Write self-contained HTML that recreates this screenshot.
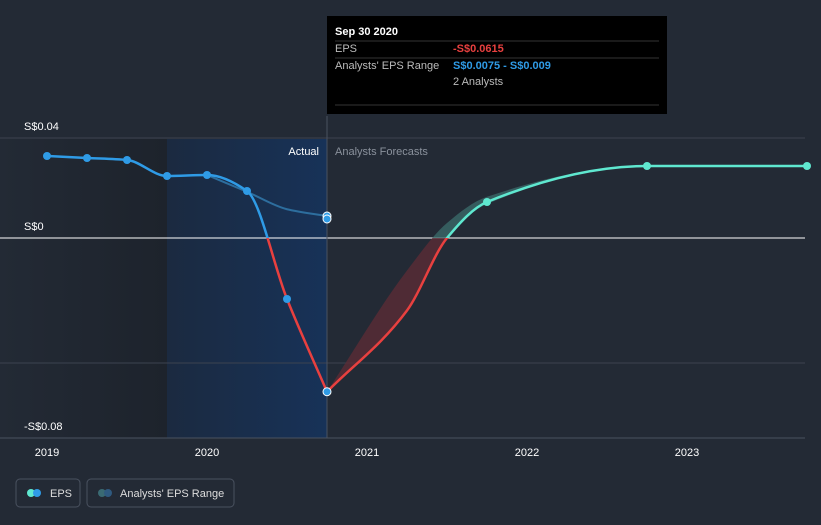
<!DOCTYPE html>
<html><head><meta charset="utf-8"><style>
body{margin:0;background:#232a35;font-family:"Liberation Sans",sans-serif;}
svg text{font-family:"Liberation Sans",sans-serif;}
</style></head><body>
<svg width="821" height="520" xmlns="http://www.w3.org/2000/svg">
<defs>
<linearGradient id="pastG" x1="0" x2="1" y1="0" y2="0"><stop offset="0" stop-color="#232a35"/><stop offset="1" stop-color="#1d232c"/></linearGradient>
<linearGradient id="actG" x1="0" x2="1" y1="0" y2="0"><stop offset="0" stop-color="#1b2a40"/><stop offset="1" stop-color="#173258"/></linearGradient>
</defs>
<rect x="0" y="0" width="821" height="520" fill="#232a35"/>
<rect x="0" y="139" width="167" height="299" fill="url(#pastG)"/>
<rect x="167" y="139" width="160" height="299" fill="url(#actG)"/>
<g id="grid"></g>
<line x1="327" y1="116" x2="327" y2="438" stroke="#4a5260" stroke-width="1"/>
<text x="319" y="155" fill="#ffffff" font-size="11" text-anchor="end">Actual</text>
<text x="335" y="155" fill="#8a919c" font-size="11">Analysts Forecasts</text>
<g id="marks"></g>
<g>
<rect x="327" y="16" width="340" height="98" fill="#000000"/>
<text x="335" y="35" fill="#fff" font-size="11" font-weight="bold">Sep 30 2020</text>
<line x1="335" y1="41" x2="659" y2="41" stroke="#333"/>
<text x="335" y="52" fill="#bbb" font-size="11">EPS</text>
<text x="453" y="52" fill="#e8403f" font-size="11" font-weight="bold">-S$0.0615</text>
<line x1="335" y1="58" x2="659" y2="58" stroke="#333"/>
<text x="335" y="69" fill="#bbb" font-size="11">Analysts' EPS Range</text>
<text x="453" y="69" fill="#2f9be6" font-size="11" font-weight="bold">S$0.0075 - S$0.009</text>
<text x="453" y="85" fill="#bbb" font-size="11">2 Analysts</text>
<line x1="335" y1="105" x2="659" y2="105" stroke="#333"/>
</g>
<g>
<rect x="16" y="479" width="64" height="28" rx="4" fill="none" stroke="#4a5260"/>
<circle cx="31" cy="493" r="4" fill="#5fe8d0"/><circle cx="37" cy="493" r="4" fill="#2f9be6"/>
<text x="50" y="497" fill="#ddd" font-size="11">EPS</text>
<rect x="87" y="479" width="147" height="28" rx="4" fill="none" stroke="#4a5260"/>
<circle cx="102" cy="493" r="4" fill="#3a6a73"/><circle cx="108" cy="493" r="4" fill="#2f5a80"/>
<text x="120" y="497" fill="#ddd" font-size="11">Analysts' EPS Range</text>
</g>
</svg>
<script>
const yTickVals=[0.04,0,-0.08];
const yTickLabels=["S$0.04","S$0","-S$0.08"];
const xTickVals=[2019,2020,2021,2022,2023];
const actualX=[2019,2019.25,2019.5,2019.75,2020,2020.25,2020.5,2020.75];
const actualY=[0.0328,0.032,0.0312,0.0248,0.0252,0.0188,-0.0244,-0.0615];
const pastEstX=[2020,2020.25,2020.5,2020.75];
const pastEstY=[0.0252,0.0185,0.0115,0.0088];
const fcX=[2020.75,2021.25,2021.5,2021.75,2022.75,2023.75];
const fcY=[-0.0615,-0.029,0,0.0144,0.0288,0.0288];
const fcLow=[-0.0615,-0.029,0,0.0136,0.0288,0.0288];
const fcHigh=[-0.0615,-0.013,0.006,0.0165,0.0288,0.0288];
const ns="http://www.w3.org/2000/svg";
const X=v=>47+(v-2019)*160;
const Y=v=>238-v*2500;
function el(t,a,p){const e=document.createElementNS(ns,t);for(const k in a)e.setAttribute(k,a[k]);p.appendChild(e);return e;}
const g=document.getElementById('grid'),m=document.getElementById('marks');
yTickVals.forEach((v,i)=>{
 const l=el('line',{x1:0,x2:805,y1:Y(v),y2:Y(v),stroke:v===0?'#ffffff':'#3c4350','stroke-width':1},g);
 
 
 const t=el('text',{x:24,y:Y(v)-8,fill:'#ffffff','font-size':11},g);t.textContent=yTickLabels[i];
 
 
});
const gl=el('line',{x1:0,x2:805,y1:Y(-0.05),y2:Y(-0.05),stroke:'#3c4350'},g);


const ax=el('line',{x1:0,x2:805,y1:438,y2:438,stroke:'#4a5260'},g);


xTickVals.forEach(v=>{
 const t=el('text',{x:X(v),y:456,fill:'#ffffff','font-size':11,'text-anchor':'middle'},g);t.textContent=v;
 
 
});
function mono(xs,ys){
 const px=xs.map(X),py=ys.map(Y),n=px.length;
 const dx=[],s=[];for(let i=0;i<n-1;i++){dx.push(px[i+1]-px[i]);s.push((py[i+1]-py[i])/dx[i]);}
 const t=[s[0]];for(let i=1;i<n-1;i++){t.push(s[i-1]*s[i]<=0?0:3*(dx[i-1]+dx[i])/((2*dx[i]+dx[i-1])/s[i-1]+(dx[i]+2*dx[i-1])/s[i]));}
 t.push(s[n-2]);
 let d='M'+px[0]+','+py[0];
 for(let i=0;i<n-1;i++){const h=dx[i]/3;d+=' C'+(px[i]+h)+','+(py[i]+t[i]*h)+' '+(px[i+1]-h)+','+(py[i+1]-t[i+1]*h)+' '+px[i+1]+','+py[i+1];}
 return d;
}
function monoRev(xs,ys){return mono(xs.slice().reverse(),ys.slice().reverse());}
const clip1=el('clipPath',{id:'pos'},m);el('rect',{x:0,y:0,width:821,height:238},clip1);
const clip2=el('clipPath',{id:'neg'},m);el('rect',{x:0,y:238,width:821,height:300},clip2);
const bandD=mono(fcX,fcHigh)+' L'+monoRev(fcX,fcLow).slice(1)+'Z';
const bandP=el('path',{d:bandD,fill:'#3c6e6c','fill-opacity':0.75,'clip-path':'url(#pos)'},m);


const bandN=el('path',{d:bandD,fill:'#5a2c36','fill-opacity':0.8,'clip-path':'url(#neg)'},m);


const pe=el('path',{d:mono(pastEstX,pastEstY),fill:'none',stroke:'#2d6e9e','stroke-width':2},m);


const aBlue=el('path',{d:mono(actualX,actualY),fill:'none',stroke:'#2f9be6','stroke-width':2.5,'clip-path':'url(#pos)'},m);


const aRed=el('path',{d:mono(actualX,actualY),fill:'none',stroke:'#e8403f','stroke-width':2.5,'clip-path':'url(#neg)'},m);


const fPos=el('path',{d:mono(fcX,fcY),fill:'none',stroke:'#5fe8d0','stroke-width':2.5,'clip-path':'url(#pos)'},m);


const fNeg=el('path',{d:mono(fcX,fcY),fill:'none',stroke:'#e8403f','stroke-width':2.5,'clip-path':'url(#neg)'},m);


actualX.forEach((x,i)=>{
 const c=el('circle',{cx:X(x),cy:Y(actualY[i]),r:4,fill:'#2f9be6'},m);
 if(i===actualX.length-1){c.setAttribute('stroke','#fff');c.setAttribute('stroke-width',1);}
 
 
});
const pt=el('circle',{cx:X(2020.75),cy:Y(0.0088),r:4,fill:'#2f9be6',stroke:'#fff','stroke-width':1},m);


const pt2=el('circle',{cx:X(2020.75),cy:Y(0.0076),r:4,fill:'#2f9be6',stroke:'#fff','stroke-width':1},m);


[[2021.75,0.0144],[2022.75,0.0288],[2023.75,0.0288]].forEach(p=>{
 const c=el('circle',{cx:X(p[0]),cy:Y(p[1]),r:4,fill:'#5fe8d0'},m);
 
 
});
</script>
</body></html>
